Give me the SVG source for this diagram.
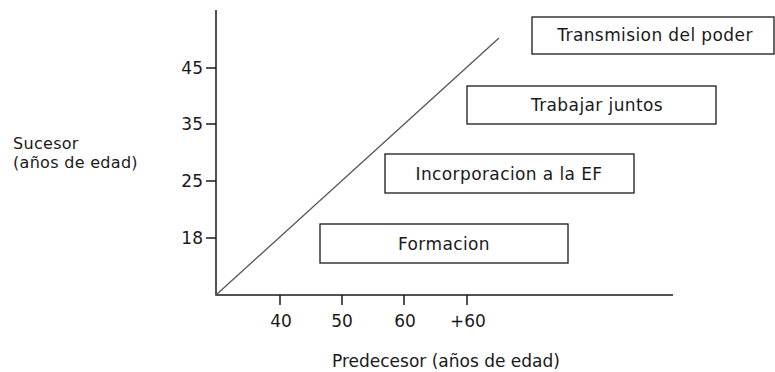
<svg xmlns="http://www.w3.org/2000/svg" width="775" height="372" viewBox="0 0 775 372">
<style>
text{font-family:"DejaVu Sans","Open Sans",sans-serif;font-size:17px;fill:#1a1a1a}
.box{fill:#fff;stroke:#1a1a1a;stroke-width:1.3}
.ax{stroke:#1a1a1a;stroke-width:1.5;fill:none}
.c{text-anchor:middle}
.r{text-anchor:end}
.b{letter-spacing:0.4px}
.s{font-size:16px;letter-spacing:0.3px}
</style>
<rect width="775" height="372" fill="#fff"/>
<g id="axes">
<path class="ax" d="M216 10V295H673"/>
<path class="ax" d="M280 295V305M342 295V305M404 295V305M467 295V305"/>
<path class="ax" d="M206 68H216M206 124H216M206 181H216M206 238H216"/>
<text class="r" x="203" y="74">45</text>
<text class="r" x="203" y="130">35</text>
<text class="r" x="203" y="187">25</text>
<text class="r" x="203" y="244">18</text>
<text class="c" x="281" y="327">40</text>
<text class="c" x="342" y="327">50</text>
<text class="c" x="405" y="327">60</text>
<text class="c" x="468" y="327">+60</text>
<text class="s" x="13" y="149">Sucesor</text>
<text class="s" x="13" y="168">(años de edad)</text>
<text x="332" y="367">Predecesor (años de edad)</text>
</g>
<g id="connectors">
<line x1="216" y1="295" x2="499" y2="38" stroke="#555" stroke-width="1.3"/>
</g>
<g id="formacion"><rect class="box" x="320" y="224" width="248" height="39"/><text class="c b" x="444" y="250">Formacion</text></g>
<g id="incorporacion"><rect class="box" x="385" y="154" width="249" height="39"/><text class="c b" x="509" y="180">Incorporacion a la EF</text></g>
<g id="trabajar"><rect class="box" x="467" y="86" width="249" height="38"/><text class="c b" x="597" y="111">Trabajar juntos</text></g>
<g id="transmision"><rect class="box" x="532" y="17" width="242" height="37"/><text class="c b" x="655" y="41">Transmision del poder</text></g>
</svg>
